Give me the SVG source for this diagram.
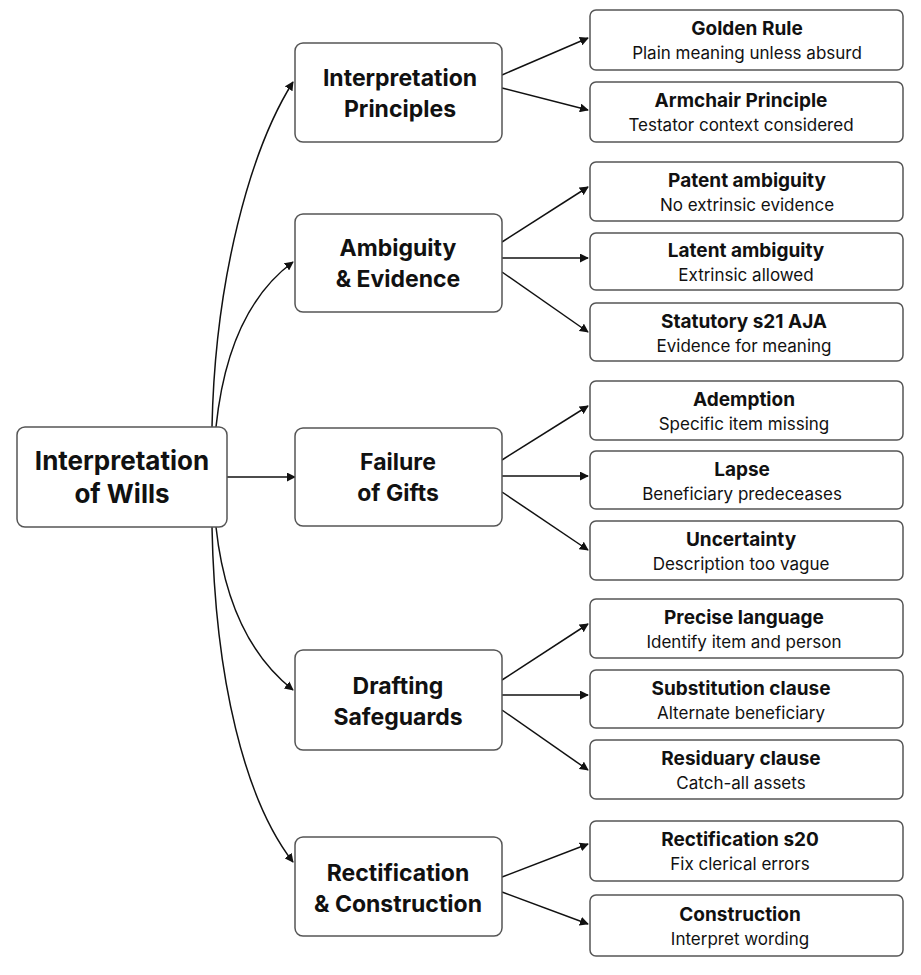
<svg xmlns="http://www.w3.org/2000/svg" width="921" height="975" viewBox="0 0 921 975">
<defs>
<marker id="ah" viewBox="0 0 10 10" refX="9" refY="5" markerWidth="9" markerHeight="9" orient="auto" markerUnits="userSpaceOnUse"><path d="M0,0 L10,5 L0,10 z" fill="#111"/></marker>
<style>
rect{fill:#fff;stroke:#555;stroke-width:1.5}
text{font-family:Inter,"Noto Sans",sans-serif;fill:#111;text-anchor:middle}
.r{font-size:26px;font-weight:700}
.m{font-size:23px;font-weight:700}
.t{font-size:19px;font-weight:700}
.s{font-size:17px}
.c path,.c line{stroke:#111;stroke-width:1.5;fill:none;marker-end:url(#ah)}
</style>
</defs>
<rect width="921" height="975" style="fill:#fff;stroke:none"/>
<g class="c">
<path d="M212,427 C215,280 250,150 293,82"/>
<path d="M216,427 C225,340 255,290 293,262"/>
<line x1="227" y1="477" x2="295" y2="477"/>
<path d="M216,527 C225,610 255,660 293,690"/>
<path d="M212,527 C215,680 245,800 293,862"/>
<line x1="502" y1="75" x2="588" y2="38"/>
<line x1="502" y1="88" x2="588" y2="110"/>
<line x1="502" y1="242" x2="588" y2="187"/>
<line x1="502" y1="258" x2="588" y2="258"/>
<line x1="502" y1="272" x2="588" y2="332"/>
<line x1="502" y1="460" x2="588" y2="406"/>
<line x1="502" y1="476" x2="588" y2="476"/>
<line x1="502" y1="492" x2="588" y2="550"/>
<line x1="502" y1="680" x2="588" y2="624"/>
<line x1="502" y1="695" x2="588" y2="695"/>
<line x1="502" y1="710" x2="588" y2="770"/>
<line x1="502" y1="877" x2="588" y2="844"/>
<line x1="502" y1="892" x2="588" y2="924"/>
</g>
<g id="root"><rect x="17" y="427" width="210" height="100" rx="8"/><text class="r" x="122" y="470">Interpretation</text><text class="r" x="122" y="503">of Wills</text></g>
<g id="m1"><rect x="295" y="43" width="207" height="99" rx="8"/><text class="m" x="400" y="86">Interpretation</text><text class="m" x="400" y="117">Principles</text></g>
<g id="m2"><rect x="295" y="214" width="207" height="98" rx="8"/><text class="m" x="398" y="256">Ambiguity</text><text class="m" x="398" y="287">&amp; Evidence</text></g>
<g id="m3"><rect x="295" y="428" width="207" height="98" rx="8"/><text class="m" x="398" y="470">Failure</text><text class="m" x="398" y="501">of Gifts</text></g>
<g id="m4"><rect x="295" y="650" width="207" height="100" rx="8"/><text class="m" x="398" y="694">Drafting</text><text class="m" x="398" y="725">Safeguards</text></g>
<g id="m5"><rect x="295" y="837" width="207" height="99" rx="8"/><text class="m" x="398" y="881">Rectification</text><text class="m" x="398" y="912">&amp; Construction</text></g>
<g id="l1"><rect x="590" y="10" width="313" height="60" rx="6"/><text class="t" x="747" y="35">Golden Rule</text><text class="s" x="747" y="59">Plain meaning unless absurd</text></g>
<g id="l2"><rect x="590" y="82" width="313" height="60" rx="6"/><text class="t" x="741" y="107">Armchair Principle</text><text class="s" x="741" y="131">Testator context considered</text></g>
<g id="l3"><rect x="590" y="162" width="313" height="59" rx="6"/><text class="t" x="747" y="187">Patent ambiguity</text><text class="s" x="747" y="211">No extrinsic evidence</text></g>
<g id="l4"><rect x="590" y="233" width="313" height="57" rx="6"/><text class="t" x="746" y="257">Latent ambiguity</text><text class="s" x="746" y="281">Extrinsic allowed</text></g>
<g id="l5"><rect x="590" y="303" width="313" height="58" rx="6"/><text class="t" x="744" y="328">Statutory s21 AJA</text><text class="s" x="744" y="352">Evidence for meaning</text></g>
<g id="l6"><rect x="590" y="381" width="313" height="59" rx="6"/><text class="t" x="744" y="406">Ademption</text><text class="s" x="744" y="430">Specific item missing</text></g>
<g id="l7"><rect x="590" y="451" width="313" height="58" rx="6"/><text class="t" x="742" y="476">Lapse</text><text class="s" x="742" y="500">Beneficiary predeceases</text></g>
<g id="l8"><rect x="590" y="521" width="313" height="59" rx="6"/><text class="t" x="741" y="546">Uncertainty</text><text class="s" x="741" y="570">Description too vague</text></g>
<g id="l9"><rect x="590" y="599" width="313" height="59" rx="6"/><text class="t" x="744" y="624">Precise language</text><text class="s" x="744" y="648">Identify item and person</text></g>
<g id="l10"><rect x="590" y="670" width="313" height="58" rx="6"/><text class="t" x="741" y="695">Substitution clause</text><text class="s" x="741" y="719">Alternate beneficiary</text></g>
<g id="l11"><rect x="590" y="740" width="313" height="59" rx="6"/><text class="t" x="741" y="765">Residuary clause</text><text class="s" x="741" y="789">Catch-all assets</text></g>
<g id="l12"><rect x="590" y="821" width="313" height="60" rx="6"/><text class="t" x="740" y="846">Rectification s20</text><text class="s" x="740" y="870">Fix clerical errors</text></g>
<g id="l13"><rect x="590" y="895" width="313" height="61" rx="6"/><text class="t" x="740" y="921">Construction</text><text class="s" x="740" y="945">Interpret wording</text></g>
</svg>
